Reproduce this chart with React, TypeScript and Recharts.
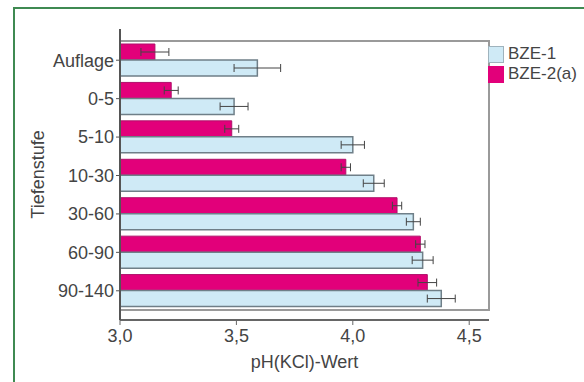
import React from 'react';
import {
  BarChart,
  Bar,
  XAxis,
  YAxis,
  ErrorBar,
  ReferenceArea,
} from 'recharts';

const depths = ['Auflage', '0-5', '5-10', '10-30', '30-60', '60-90', '90-140'];
const bze1 = [3.59, 3.49, 4.0, 4.09, 4.26, 4.3, 4.38];
const bze1Err = [0.1, 0.06, 0.05, 0.045, 0.03, 0.045, 0.06];
const bze2 = [3.15, 3.22, 3.48, 3.97, 4.19, 4.29, 4.32];
const bze2Err = [0.06, 0.03, 0.03, 0.02, 0.02, 0.02, 0.04];
const xTicks = [3.0, 3.5, 4.0, 4.5];

const PINK = '#e2007a';
const BLUE = '#cfeaf6';
const FONT = '"Liberation Sans", Arial, sans-serif';

const data = depths.map((d, i) => ({
  name: d,
  bze1: bze1[i],
  bze1Err: bze1Err[i],
  bze2: bze2[i],
  bze2Err: bze2Err[i],
}));

const legendItems = [
  { label: 'BZE-1', color: BLUE, border: '#9fb3bd' },
  { label: 'BZE-2(a)', color: PINK, border: PINK },
];

export default function App() {
  return (
    <div style={{ position: 'absolute', left: 0, top: 0, width: 584, height: 382, background: '#fff', overflow: 'hidden' }}>
      <div
        style={{
          position: 'absolute',
          left: 13,
          top: 7,
          width: 600,
          height: 400,
          borderLeft: '2px solid #3f8a52',
          borderTop: '2px solid #3f8a52',
        }}
      />
      <div style={{ position: 'absolute', left: 0, top: 0 }}>
        <BarChart
          width={584}
          height={382}
          data={data}
          layout="vertical"
          margin={{ top: 29, right: 95, bottom: 12, left: 0 }}
          barCategoryGap={3}
          barGap={0}
        >
          <ReferenceArea x1={3} x2={4.585} fill="#fff" fillOpacity={0} stroke="#9a9a9a" strokeWidth={2} />
          <XAxis
            type="number"
            domain={[3, 4.585]}
            ticks={xTicks}
            allowDataOverflow
            height={50}
            tickSize={5}
            tickMargin={4}
            tickFormatter={(v: number) => v.toFixed(1).replace('.', ',')}
            tick={{ fontSize: 18, fill: '#444', fontFamily: FONT }}
            axisLine={{ stroke: '#666', strokeWidth: 2 }}
            tickLine={{ stroke: '#666' }}
            label={{
              value: 'pH(KCl)-Wert',
              position: 'insideBottom',
              offset: 2,
              style: { fontSize: 18, fill: '#444', fontFamily: FONT },
            }}
          />
          <YAxis
            type="category"
            dataKey="name"
            width={120}
            padding={{ top: 12, bottom: 10 }}
            tickSize={4}
            tickMargin={2}
            tick={{ fontSize: 18, fill: '#444', fontFamily: FONT }}
            axisLine={{ stroke: '#555', strokeWidth: 2 }}
            tickLine={{ stroke: '#555' }}
            label={{
              value: 'Tiefenstufe',
              angle: -90,
              position: 'insideLeft',
              offset: 38,
              style: { fontSize: 18, fill: '#444', fontFamily: FONT, textAnchor: 'middle' },
            }}
          />
          <Bar dataKey="bze2" name="BZE-2(a)" fill={PINK} stroke="#b0106a" strokeWidth={1} isAnimationActive={false}>
            <ErrorBar dataKey="bze2Err" direction="x" width={4} stroke="#444" strokeWidth={1} />
          </Bar>
          <Bar dataKey="bze1" name="BZE-1" fill={BLUE} stroke="#6f7f88" strokeWidth={1.5} isAnimationActive={false}>
            <ErrorBar dataKey="bze1Err" direction="x" width={4} stroke="#444" strokeWidth={1} />
          </Bar>
        </BarChart>
      </div>
      <div
        style={{
          position: 'absolute',
          left: 488,
          top: 44,
          fontFamily: FONT,
          fontSize: 17,
          color: '#444',
          lineHeight: '20px',
        }}
      >
        {legendItems.map((it) => (
          <div key={it.label} style={{ display: 'flex', alignItems: 'center' }}>
            <span
              style={{
                display: 'inline-block',
                width: 14,
                height: 15,
                background: it.color,
                border: `1px solid ${it.border}`,
                marginRight: 4,
              }}
            />
            {it.label}
          </div>
        ))}
      </div>
    </div>
  );
}
